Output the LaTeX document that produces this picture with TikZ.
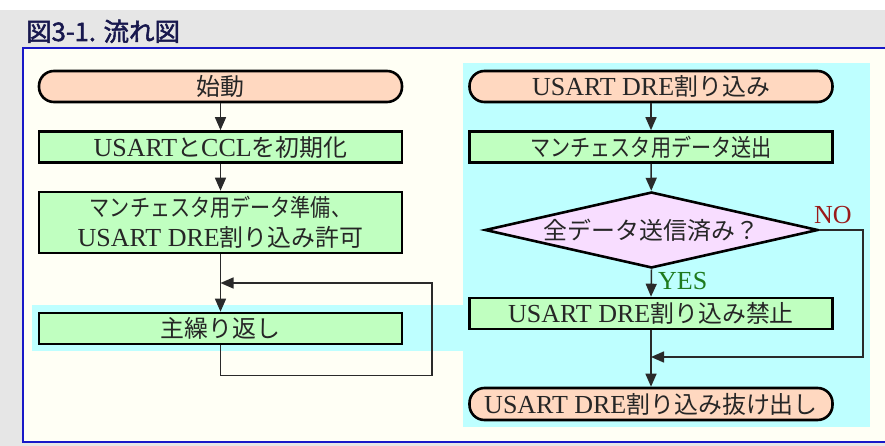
\documentclass[tikz,border=0pt]{standalone}
\usepackage{fontspec}
\usepackage{graphicx}
\usetikzlibrary{shapes.geometric,arrows.meta,calc}
\setmainfont{Liberation Serif}
\newfontfamily\jp{Noto Sans CJK JP}[Scale=0.92]
\newfontfamily\jptitle{Noto Sans CJK JP}[FakeBold=2]
\newcommand{\J}[1]{{\jp #1}}
\definecolor{bggray}{HTML}{E6E6E6}
\definecolor{ivory}{HTML}{FFFFF5}
\definecolor{frameblue}{HTML}{1818C8}
\definecolor{panelcyan}{HTML}{BEFFFF}
\definecolor{peach}{HTML}{FFD8C0}
\definecolor{boxgreen}{HTML}{C0FFC0}
\definecolor{decpink}{HTML}{F8DDFF}
\definecolor{titlenavy}{HTML}{18184E}
\definecolor{yesgreen}{HTML}{1E7A1E}
\definecolor{nored}{HTML}{9A1A1A}
\definecolor{linegray}{HTML}{2A2A2A}
\tikzset{
  base/.style={draw=black, line width=2.6pt, inner sep=0pt, font=\fontsize{26}{28}\selectfont, text=black!85},
  term/.style={base, fill=peach, rounded corners=15pt, minimum width=363pt, minimum height=31pt},
  proc/.style={base, fill=boxgreen, minimum width=363pt, minimum height=31pt},
  dec/.style={base, fill=decpink, diamond, minimum width=333pt, minimum height=76pt},
  conn/.style={draw=linegray, line width=1.5pt},
  arr/.style={conn, -{Triangle[length=13pt,width=11pt]}},
  lbl/.style={inner sep=0pt, font=\fontsize{26}{28}\selectfont}
}
\begin{document}
\begin{tikzpicture}[x=1pt,y=-1pt]
\useasboundingbox (0,0) rectangle (885,446);
\fill[white] (0,0) rectangle (885,10);
\fill[bggray] (0,10) rectangle (885,446);
\node[anchor=base west, inner sep=0pt, text=titlenavy, font=\jptitle\fontsize{25.5}{27}\selectfont] (title) at (26,41) {図3-1. 流れ図};
\fill[ivory] (23,48) rectangle (886,442);
\draw[frameblue, line width=1.6pt] (886,48) -- (23,48) -- (23,442) -- (886,442);
\fill[panelcyan] (463,63) rectangle (870,427);
\fill[panelcyan] (32,305) rectangle (463,351);

% left column
\node[term] (start) at (220.5,86.5) {\J{始動}};
\node[proc] (init) at (220.5,147) {USART\J{と}CCL\J{を初期化}};
\node[proc, minimum height=61pt, align=center, font=\fontsize{26}{30}\selectfont] (prep) at (220.5,222.5)
  {\scalebox{0.84}[1]{\J{マンチェスタ用データ準備、}}\\USART DRE\J{割り込み許可}};
\node[proc] (main) at (220.5,328.5) {\J{主繰り返し}};

% right column
\node[term] (irq) at (651,86.5) {USART DRE\J{割り込み}};
\node[proc] (send) at (651,147) {\scalebox{0.84}[1]{\J{マンチェスタ用データ送出}}};
\node[dec] (chk) at (651.5,230) {\makebox[0pt]{\J{全データ送信済み？}}};
\node[proc] (dis) at (651,313.5) {USART DRE\J{割り込み禁止}};
\node[term, minimum height=32pt] (exit) at (651,404) {USART DRE\J{割り込み抜け出し}};

% connectors left
\draw[arr] (start) -- (init);
\draw[arr] (init) -- (prep);
\draw[arr] (prep) -- (main);
\coordinate (loopr) at (432,283);
\draw[arr] (main.south) -- ++(0,30) -| (loopr) -- (loopr -| main.north);

% connectors right
\draw[arr] (irq) -- (send);
\draw[arr] (send) -- (chk);
\draw[arr] (chk.south) -- (dis.north);
\draw[arr] (dis) -- (exit);
\coordinate (nor) at (863,357);
\draw[arr] (chk.east) -| (nor) -- (nor -| exit.north);

\node[lbl, text=yesgreen, anchor=base west] (yes) at (658,289) {YES};
\node[lbl, text=nored, anchor=base west] (no) at (814,223) {NO};
\end{tikzpicture}
\end{document}
